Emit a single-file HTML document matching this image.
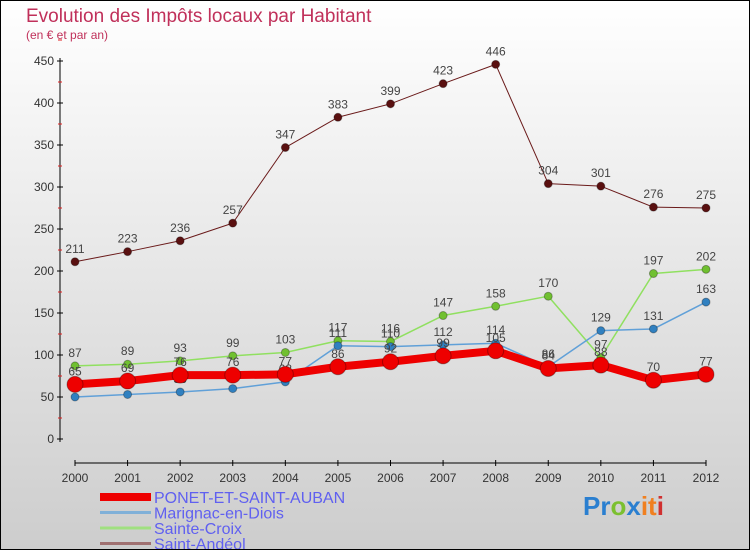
<!DOCTYPE html>
<html><head><meta charset="utf-8"><style>
body{margin:0}
#c{width:750px;height:550px;position:relative;overflow:hidden;box-sizing:border-box;border:1px solid #000;background:linear-gradient(#ffffff,#cdcdcd);font-family:"Liberation Sans",sans-serif}
</style></head><body>
<div id="c">
<svg width="750" height="550" style="position:absolute;left:-1px;top:-1px" id="s">
<text x="26" y="22" font-size="19" fill="#c0305a">Evolution des Impôts locaux par Habitant</text>
<text x="26" y="39" font-size="12" fill="#c0305a">(en € et par an)</text>
<g id="ax"></g><g id="ser"></g><g id="leg"></g>
<text x="583" y="515" font-size="26" font-weight="bold"><tspan fill="#2a7fd0">Pr</tspan><tspan fill="#7cc030">o</tspan><tspan fill="#2a7fd0">x</tspan><tspan fill="#f08020">it</tspan><tspan fill="#d03030">i</tspan></text>
</svg></div>
<script>
const years=["2000","2001","2002","2003","2004","2005","2006","2007","2008","2009","2010","2011","2012"];
const yTicks=[0,50,100,150,200,250,300,350,400,450];
const seriesNames=["PONET-ET-SAINT-AUBAN","Marignac-en-Diois","Sainte-Croix","Saint-Andéol"];
const ponet=[65,69,76,76,77,86,92,99,105,84,88,70,77];
const marignac=[50,53,56,60,68,111,110,112,114,86,129,131,163];
const croix=[87,89,93,99,103,117,116,147,158,170,97,197,202];
const andeol=[211,223,236,257,347,383,399,423,446,304,301,276,275];
const NS="http://www.w3.org/2000/svg";
function X(i){return 75+i*(706-75)/(years.length-1);}
function Y(v){return 439-v*(439-61)/450;}
function mk(p,t,a){const e=document.createElementNS(NS,t);for(const k in a)e.setAttribute(k,a[k]);p.appendChild(e);return e;}
const ax=document.getElementById('ax');
let e=mk(ax,'line',{x1:60,y1:58,x2:60,y2:442,stroke:'#000'});


yTicks.forEach(v=>{mk(ax,'line',{x1:57,x2:63,y1:Y(v),y2:Y(v),stroke:'#000'});
mk(ax,'line',{x1:58,x2:62,y1:Y(v+25),y2:Y(v+25),stroke:'#e02020'});
const t=mk(ax,'text',{x:54,y:Y(v)+4,'text-anchor':'end','font-size':12,fill:'#333'});t.textContent=v;

});
e=mk(ax,'line',{x1:75,y1:463,x2:706,y2:463,stroke:'#000'});


years.forEach((y,i)=>{mk(ax,'line',{x1:X(i),x2:X(i),y1:460,y2:466,stroke:'#000'});
const t=mk(ax,'text',{x:X(i),y:482,'text-anchor':'middle','font-size':12,fill:'#333'});t.textContent=y;

});
const ser=document.getElementById('ser');
const defs=[[andeol,'#6a1a1a','#5a1010',1,4,'saint-andeol'],[croix,'#90e060','#70c030',1.5,4,'sainte-croix'],[marignac,'#60a0d8','#3080c0',1.5,4,'marignac-en-diois'],[ponet,'#ee0000','#ee0000',8,8,'ponet-et-saint-auban']];
defs.forEach(([d,lc,pc,w,r,n])=>{
const g=mk(ser,'g',{});
const l=mk(g,'polyline',{points:d.map((v,i)=>X(i)+','+Y(v)).join(' '),fill:'none',stroke:lc,'stroke-width':w,'stroke-linejoin':'round'});


d.forEach((v,i)=>{const c=mk(g,'circle',{cx:X(i),cy:Y(v),r:r,fill:pc,stroke:'rgba(0,0,0,0.3)'});


const t=mk(g,'text',{x:X(i),y:Y(v)-9,'text-anchor':'middle','font-size':12,fill:'#444'});t.textContent=v;

});});
const leg=document.getElementById('leg');
const lcol=['#ee0000','#80b0d8','#a0e080','#a07070'],lw=[8,3,3,3];
seriesNames.forEach((n,i)=>{const y=497+i*15.5;
const g=mk(leg,'g',{});
mk(g,'line',{x1:100,x2:151,y1:y,y2:y,stroke:lcol[i],'stroke-width':lw[i]});
const t=mk(g,'text',{x:154,y:y+6,'font-size':16,fill:'#6060f0'});t.textContent=n;});
</script></body></html>
